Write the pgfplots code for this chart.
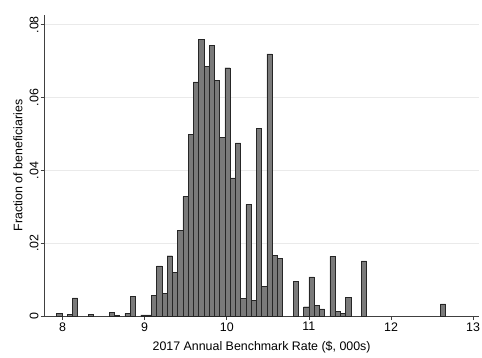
\documentclass[border=0pt]{standalone}
\usepackage{pgfplots}
\pgfplotsset{compat=1.18}
\usepackage{fontspec}
\setmainfont{Liberation Sans}
\definecolor{barfill}{RGB}{122,122,122}
\definecolor{gridc}{RGB}{234,234,234}
\begin{document}
\fontsize{12.5}{15}\selectfont
\begin{tikzpicture}
\begin{axis}[
  scale only axis, width=437pt, height=303.5pt,
  xmin=7.782, xmax=13.066, ymin=0, ymax=0.0827,
  axis x line*=bottom, axis y line*=left,
  axis line style={-, line width=0.6pt, black!75},
  xtick={8,9,10,11,12,13},
  ytick={0,0.02,0.04,0.06,0.08},
  yticklabels={0,.02,.04,.06,.08},
  scaled y ticks=false,
  /pgf/number format/assume math mode=true,
  ymajorgrids, grid style={line width=0.7pt, gridc},
  tick align=outside, major tick length=4pt,
  tick style={line width=0.6pt, black!75},
  yticklabel style={rotate=90, anchor=south, inner sep=2pt},
  xticklabel style={anchor=north, inner sep=2pt},
  every axis y label/.style={at={(axis description cs:-0.0618,0.5)}, rotate=90, anchor=center},
  every axis x label/.style={at={(axis description cs:0.5,-0.104)}, anchor=center},
  xlabel={2017 Annual Benchmark Rate (\$, 000s)},
  ylabel={Fraction of beneficiaries},
  clip=false,
]
\addplot[ybar, bar width=0.064, bar shift=0pt, fill=barfill, draw=black!85, line width=0.45pt] coordinates {
(7.960,0.0008) (8.088,0.0005) (8.152,0.0050) (8.344,0.0005)
(8.600,0.0011) (8.664,0.0002) (8.792,0.0008) (8.856,0.0055)
(8.984,0.0004) (9.048,0.0004) (9.112,0.0057) (9.176,0.0138)
(9.240,0.0062) (9.304,0.0166) (9.368,0.0120) (9.432,0.0235)
(9.496,0.0328) (9.560,0.0500) (9.624,0.0643) (9.688,0.0759)
(9.752,0.0685) (9.816,0.0743) (9.880,0.0648) (9.944,0.0490)
(10.008,0.0682) (10.072,0.0380) (10.136,0.0476) (10.200,0.0049)
(10.264,0.0307) (10.328,0.0043) (10.392,0.0516) (10.456,0.0082)
(10.520,0.0720) (10.584,0.0168) (10.648,0.0159) (10.840,0.0096)
(10.968,0.0026) (11.032,0.0108) (11.096,0.0029) (11.160,0.0020)
(11.288,0.0164) (11.352,0.0013) (11.416,0.0008) (11.480,0.0052)
(11.672,0.0152) (12.632,0.0034)
};
\end{axis}
\path[use as bounding box] (-45pt,-39.5pt) rectangle (437pt,318.5pt);
\end{tikzpicture}
\end{document}
